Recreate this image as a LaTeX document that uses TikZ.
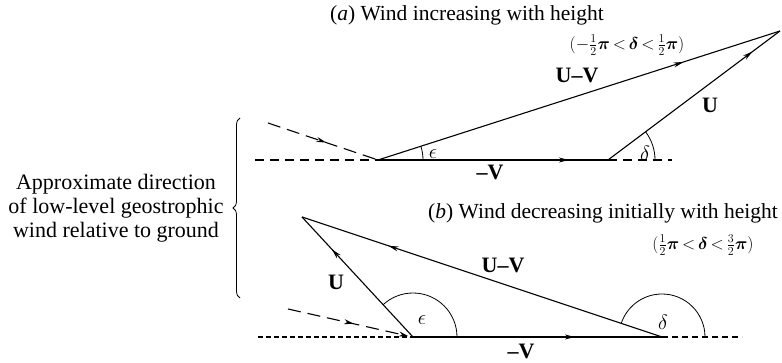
\documentclass[tikz,border=0pt]{standalone}
\usepackage{amsmath}
\usepackage{fontspec}
\setmainfont{Liberation Serif}
\usetikzlibrary{arrows.meta,decorations.markings,decorations.pathreplacing,calc}
\begin{document}
\begin{tikzpicture}[x=1pt,y=1pt,
  vec/.style={line width=1.1pt},
  thinarc/.style={line width=0.8pt},
  dashline/.style={line width=1.1pt,dash pattern=on 9pt off 6pt},
  finedash/.style={line width=1.1pt,dash pattern=on 5pt off 3pt},
  midarrow/.style={postaction={decorate},decoration={markings,mark=at position #1 with {\arrow{Stealth[length=10pt,width=5pt]}}}},
  lbl/.style={inner sep=0pt,font=\fontsize{22}{24}\selectfont},
  cond/.style={inner sep=0pt,font=\fontsize{17}{20}\selectfont},
  ttl/.style={inner sep=0pt,font=\fontsize{21.5}{24}\selectfont}]
\useasboundingbox (0,0) rectangle (782,363);
% panel (a)
\coordinate (A1) at (378,203);
\coordinate (B1) at (608,203);
\coordinate (C1) at (780,332);
\coordinate (DL1) at (255,203);
\coordinate (DA1) at (268,240);
\coordinate (DR1) at (672,203);
\draw[dashline] (DL1) -- (A1);
\draw[dashline,dash pattern=on 13pt off 7pt,midarrow=0.53] (DA1) -- (A1);
\draw[dashline] (B1) -- (DR1);
\draw[vec,midarrow=0.83] (A1) -- (B1);
\draw[vec,midarrow=0.76] (A1) -- (C1);
\draw[vec,midarrow=0.84] (B1) -- (C1);
\draw[thinarc] ($(A1)+(45,0)$) arc[start angle=0,end angle=17.8,radius=45];
\draw[thinarc] ($(B1)+(47,0)$) arc[start angle=0,end angle=36.9,radius=47];
\node[lbl] (ea) at (433,209) {$\epsilon$};
\node[lbl] (da) at (645,210) {$\delta$};
\node[lbl] (uva) at (577,288) {\textbf{U\textendash V}};
\node[lbl] (ua) at (710,258) {\textbf{U}};
\node[lbl] (va) at (490,191) {\textbf{\textendash V}};
\node[ttl] (ta) at (467,348) {(\textit{a}) Wind increasing with height};
\node[cond] (ca) at (627,318) {$(-\tfrac{1}{2}\boldsymbol{\pi}\,{<}\,\boldsymbol{\delta}\,{<}\,\tfrac{1}{2}\boldsymbol{\pi})$};
% panel (b)
\coordinate (A2) at (413,26);
\coordinate (B2) at (662,26);
\coordinate (C2) at (302,146);
\coordinate (DL2) at (258,26);
\coordinate (DA2) at (288,54);
\coordinate (DR2) at (742,26);
\coordinate (DE2) at (408,27);
\draw[finedash] (DL2) -- (A2);
\draw[dashline,dash pattern=on 13pt off 7pt,midarrow=0.55,-{Stealth[length=9pt,width=5pt]}] (DA2) -- (DE2);
\draw[finedash,dash pattern=on 6pt off 4pt] (B2) -- (DR2);
\draw[vec,midarrow=0.65] (A2) -- (B2);
\draw[vec,midarrow=0.73] (A2) -- (C2);
\draw[vec,midarrow=0.76] (B2) -- (C2);
\draw[thinarc] ($(A2)+(44,0)$) arc[start angle=0,end angle=132.8,radius=44];
\draw[thinarc] ($(B2)+(43,0)$) arc[start angle=0,end angle=161.6,radius=43];
\node[lbl] (eb) at (422,43) {$\epsilon$};
\node[lbl] (db) at (663,41) {$\delta$};
\node[lbl] (ub) at (336,81) {\textbf{U}};
\node[lbl] (uvb) at (503,98) {\textbf{U\textendash V}};
\node[lbl] (vb) at (521,12) {\textbf{\textendash V}};
\node[ttl] (tb) at (603,150) {(\textit{b}) Wind decreasing initially with height};
\node[cond] (cb) at (703,118) {$(\tfrac{1}{2}\boldsymbol{\pi}\,{<}\,\boldsymbol{\delta}\,{<}\,\tfrac{3}{2}\boldsymbol{\pi})$};
% brace and label
\coordinate (br1) at (240,65);
\coordinate (br2) at (240,245);
\draw[thinarc,decorate,decoration={brace,amplitude=7pt}] (br1) -- (br2);
\node[lbl,align=center] (txt) at (116,155) {Approximate direction\\of low-level geostrophic\\wind relative to ground};
\end{tikzpicture}
\end{document}
